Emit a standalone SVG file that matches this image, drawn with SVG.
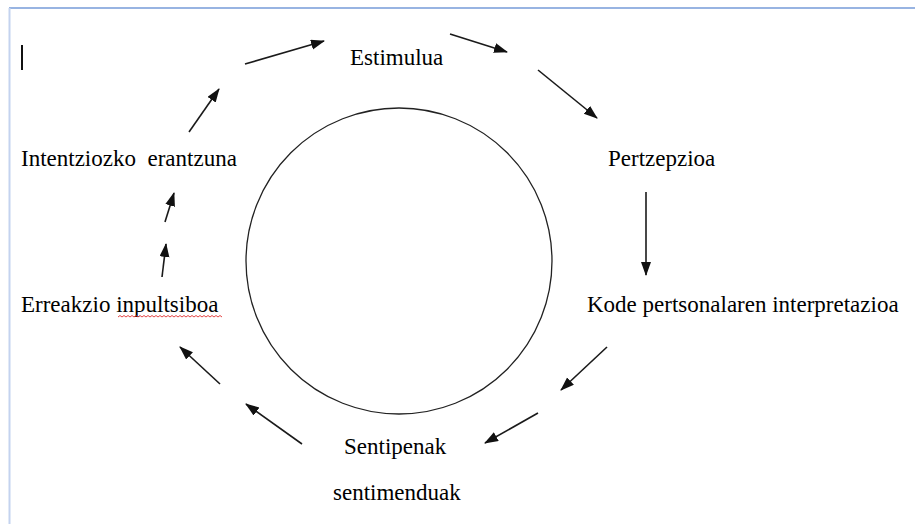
<svg xmlns="http://www.w3.org/2000/svg" width="915" height="524" viewBox="0 0 915 524">
<defs>
<marker id="ah" markerUnits="userSpaceOnUse" markerWidth="14" markerHeight="11" refX="13" refY="5" orient="auto">
<path d="M0,0 L14,5 L0,10 Z" fill="#111"/>
</marker>
<style>
.t{font-family:'Liberation Serif','Times New Roman','DejaVu Serif',serif;font-size:23px;fill:#000;}
.c{stroke:#1a1a1a;stroke-width:1.6;fill:none;marker-end:url(#ah);}
</style>
</defs>
<rect width="915" height="524" fill="#fff"/>
<g id="frame">
<line x1="9" y1="8" x2="915" y2="8" stroke="#98b4e2" stroke-width="2"/>
<line x1="9.5" y1="8" x2="9.5" y2="524" stroke="#c4d3ef" stroke-width="2"/>
</g>
<line id="cursor" x1="22" y1="45" x2="22" y2="70" stroke="#111" stroke-width="2"/>
<g id="center-circle">
<circle cx="399" cy="261" r="153" fill="none" stroke="#222" stroke-width="1.3"/>
</g>
<g id="n-estimulua"><text class="t" x="350" y="65">Estimulua</text></g>
<g id="n-pertzepzioa"><text class="t" x="608" y="166">Pertzepzioa</text></g>
<g id="n-kode"><text class="t" x="587" y="312">Kode pertsonalaren interpretazioa</text></g>
<g id="n-sentipenak"><text class="t" x="344" y="454">Sentipenak</text><text class="t" x="333" y="500">sentimenduak</text></g>
<g id="n-erreakzio"><text class="t" x="21" y="312" xml:space="preserve">Erreakzio inpultsiboa</text>
<path d="M118,317 l2,-1.5 l2,1.5 l2,-1.5 l2,1.5 l2,-1.5 l2,1.5 l2,-1.5 l2,1.5 l2,-1.5 l2,1.5 l2,-1.5 l2,1.5 l2,-1.5 l2,1.5 l2,-1.5 l2,1.5 l2,-1.5 l2,1.5 l2,-1.5 l2,1.5 l2,-1.5 l2,1.5 l2,-1.5 l2,1.5 l2,-1.5 l2,1.5 l2,-1.5 l2,1.5 l2,-1.5 l2,1.5 l2,-1.5 l2,1.5 l2,-1.5 l2,1.5 l2,-1.5 l2,1.5 l2,-1.5 l2,1.5 l2,-1.5 l2,1.5 l2,-1.5 l2,1.5 l2,-1.5 l2,1.5 l2,-1.5 l2,1.5 l2,-1.5 l2,1.5 l2,-1.5 l2,1.5 l2,-1.5 l2,1.5" fill="none" stroke="#e03030" stroke-width="0.9"/>
</g>
<g id="n-intentziozko"><text class="t" x="21" y="166" xml:space="preserve">Intentziozko  erantzuna</text></g>
<g id="connectors">
<line class="c" x1="245" y1="64" x2="324" y2="41"/>
<line class="c" x1="450" y1="34" x2="507" y2="52"/>
<line class="c" x1="538" y1="70" x2="597" y2="118"/>
<line class="c" x1="646" y1="192" x2="646" y2="275"/>
<line class="c" x1="607" y1="347" x2="561" y2="390"/>
<line class="c" x1="538" y1="413" x2="485" y2="443"/>
<line class="c" x1="302" y1="444" x2="246" y2="404"/>
<line class="c" x1="220" y1="384" x2="180" y2="347"/>
<line class="c" x1="162" y1="277" x2="166" y2="244"/>
<line class="c" x1="165" y1="222" x2="174" y2="193"/>
<line class="c" x1="189" y1="132" x2="219" y2="89"/>
</g>
</svg>
